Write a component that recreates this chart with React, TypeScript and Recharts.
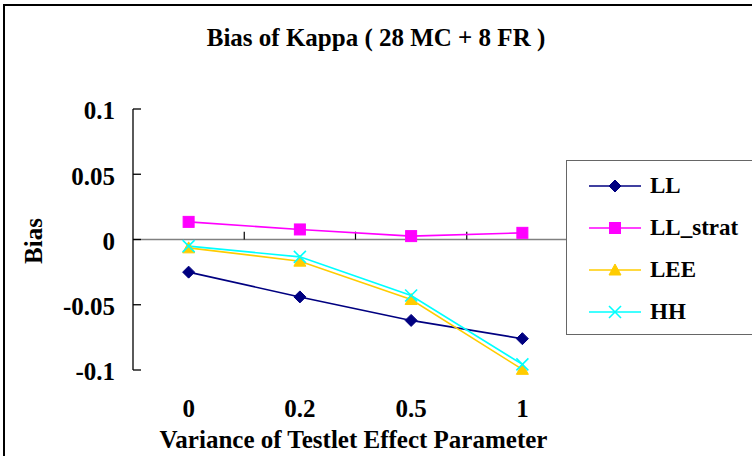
import React from 'react';
import { ComposedChart, Line, XAxis, YAxis, ReferenceLine } from 'recharts';

const categories = ['0', '0.2', '0.5', '1'];
const llValues = [-0.025, -0.044, -0.062, -0.076];
const llStratValues = [0.0135, 0.0077, 0.0026, 0.0051];
const leeValues = [-0.0064, -0.0166, -0.046, -0.0995];
const hhValues = [-0.0051, -0.0133, -0.0429, -0.0957];
const yTicks = [0.1, 0.05, 0, -0.05, -0.1];

const FONT = '"Liberation Serif", "Times New Roman", serif';
const textStyle = { fontFamily: FONT, fontWeight: 'bold' as const, fontSize: 25, fill: '#000' };

type Shape = 'diamond' | 'square' | 'triangle' | 'cross';

const series: { key: string; color: string; shape: Shape }[] = [
  { key: 'LL', color: '#000080', shape: 'diamond' },
  { key: 'LL_strat', color: '#FF00FF', shape: 'square' },
  { key: 'LEE', color: '#FFCC00', shape: 'triangle' },
  { key: 'HH', color: '#00FFFF', shape: 'cross' },
];

const data = categories.map((name, i) => ({
  name,
  LL: llValues[i],
  LL_strat: llStratValues[i],
  LEE: leeValues[i],
  HH: hhValues[i],
}));

const Marker = ({ cx, cy, color, shape }: { cx: number; cy: number; color: string; shape: Shape }) => {
  if (cx == null || cy == null) return null;
  if (shape === 'diamond') {
    return <polygon points={`${cx},${cy - 6} ${cx + 6},${cy} ${cx},${cy + 6} ${cx - 6},${cy}`} fill={color} stroke={color} />;
  }
  if (shape === 'square') {
    return <rect x={cx - 5.5} y={cy - 5.5} width={11} height={11} fill={color} stroke={color} />;
  }
  if (shape === 'triangle') {
    return <polygon points={`${cx},${cy - 6} ${cx + 6},${cy + 5} ${cx - 6},${cy + 5}`} fill={color} stroke={color} />;
  }
  return (
    <g stroke={color} strokeWidth={1.6}>
      <line x1={cx - 6} y1={cy - 6} x2={cx + 6} y2={cy + 6} />
      <line x1={cx - 6} y1={cy + 6} x2={cx + 6} y2={cy - 6} />
    </g>
  );
};

// legend box sits over the right end of the plot, cut off by the frame like the original
const LegendBox = () => (
  <div
    style={{
      position: 'absolute',
      left: 566,
      top: 160,
      width: 220,
      height: 175,
      border: '1.5px solid #666',
      background: '#fff',
      boxSizing: 'border-box',
    }}
  >
    {series.map((s, i) => (
      <div
        key={s.key}
        style={{ position: 'absolute', left: 0, top: 11 + i * 42, height: 28, display: 'flex', alignItems: 'center' }}
      >
        <svg width={83} height={28} style={{ display: 'block' }}>
          <line x1={22} y1={14} x2={74} y2={14} stroke={s.color} strokeWidth={1.6} />
          <Marker cx={48} cy={14} color={s.color} shape={s.shape} />
        </svg>
        <span style={{ fontFamily: FONT, fontWeight: 'bold', fontSize: 23, lineHeight: '28px' }}>{s.key}</span>
      </div>
    ))}
  </div>
);

export default function App() {
  return (
    <div style={{ position: 'absolute', left: 0, top: 0, width: 752, height: 456, overflow: 'hidden', background: '#fff' }}>
      <div
        style={{
          position: 'absolute',
          left: 3,
          top: 4,
          width: 800,
          height: 500,
          borderLeft: '2px solid #000',
          borderTop: '2px solid #000',
        }}
      />
      <div
        style={{
          position: 'absolute',
          left: 0,
          top: 25,
          width: 752,
          textAlign: 'center',
          fontFamily: FONT,
          fontWeight: 'bold',
          fontSize: 25,
          lineHeight: '25px',
        }}
      >
        Bias of Kappa ( 28 MC + 8 FR )
      </div>
      <div style={{ position: 'absolute', left: 0, top: 0 }}>
        <ComposedChart width={752} height={456} data={data} margin={{ top: 109, right: 174, bottom: 0, left: 0 }}>
          <XAxis
            dataKey="name"
            scale="band"
            height={86}
            axisLine={false}
            tickLine={false}
            tickSize={0}
            tickMargin={29}
            interval={0}
            tick={textStyle}
            label={{
              value: 'Variance of Testlet Effect Parameter',
              position: 'insideBottom',
              offset: 8,
              dx: -2,
              style: textStyle,
            }}
          />
          <YAxis
            width={133}
            domain={[-0.1, 0.1]}
            ticks={yTicks}
            interval={0}
            axisLine={{ stroke: '#000', strokeWidth: 1.3 }}
            tickLine={{ stroke: '#000', strokeWidth: 1.3 }}
            tickSize={-8}
            tickMargin={26}
            tick={{ ...textStyle, dy: 1.5 }}
            label={{
              content: () => (
                <text
                  x={33}
                  y={241}
                  transform="rotate(-90 33 241)"
                  textAnchor="middle"
                  dominantBaseline="central"
                  style={textStyle}
                >
                  Bias
                </text>
              ),
            }}
          />
          <ReferenceLine y={0} stroke="#808080" strokeWidth={1.5} />
          {categories.slice(1).map((c) => (
            <ReferenceLine
              key={c}
              position="start"
              segment={[{ x: c, y: 0 }, { x: c, y: 0.006 }]}
              stroke="#000"
              strokeWidth={1.2}
            />
          ))}
          {series.map((s) => (
            <Line
              key={s.key}
              dataKey={s.key}
              stroke={s.color}
              strokeWidth={1.6}
              isAnimationActive={false}
              dot={(p: any) => (
                <Marker key={`${s.key}-${p.index}`} cx={p.cx} cy={p.cy} color={s.color} shape={s.shape} />
              )}
              activeDot={false}
            />
          ))}
        </ComposedChart>
      </div>
      <LegendBox />
    </div>
  );
}
